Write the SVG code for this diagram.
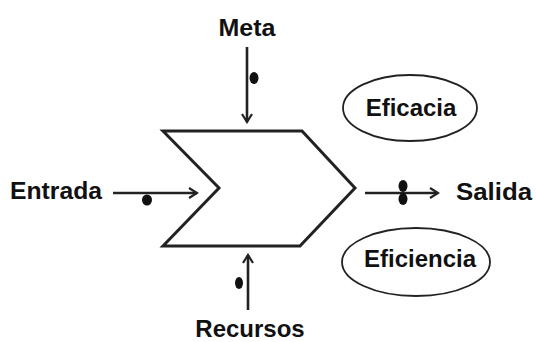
<svg xmlns="http://www.w3.org/2000/svg" width="536" height="342" viewBox="0 0 536 342">
<style>
.t{font-family:"Liberation Sans",Arial,sans-serif;font-weight:bold;font-size:24px;fill:#111}
.ln{stroke:#222;stroke-width:2.6;fill:none}
.dot{fill:#111}
.ov{fill:#fff;stroke:#222;stroke-width:1.8}
</style>
<defs>
<marker id="ah" viewBox="0 0 12 12" refX="10" refY="6" markerWidth="12" markerHeight="12" markerUnits="userSpaceOnUse" orient="auto">
<path d="M2,1 L10,6 L2,11" fill="none" stroke="#222" stroke-width="2.2"/>
</marker>
</defs>
<rect width="536" height="342" fill="#fff"/>
<g id="proceso">
<polygon points="163,131 302,131 355,188 300,246 163,246 219,188" fill="#fff" stroke="#222" stroke-width="3" stroke-linejoin="miter"/>
</g>
<g id="meta">
<text class="t" x="247" y="36" text-anchor="middle" textLength="57" lengthAdjust="spacingAndGlyphs">Meta</text>
</g>
<g id="entrada">
<text class="t" x="10" y="199" textLength="92" lengthAdjust="spacingAndGlyphs">Entrada</text>
</g>
<g id="salida">
<text class="t" x="456" y="200" textLength="76" lengthAdjust="spacingAndGlyphs">Salida</text>
</g>
<g id="recursos">
<text class="t" x="250" y="337" text-anchor="middle">Recursos</text>
</g>
<g id="eficacia">
<ellipse class="ov" cx="410" cy="108" rx="67" ry="33"/>
<text class="t" x="411" y="116" text-anchor="middle">Eficacia</text>
</g>
<g id="eficiencia">
<ellipse class="ov" cx="416" cy="262" rx="74" ry="34"/>
<text class="t" x="420" y="267" text-anchor="middle">Eficiencia</text>
</g>
<g id="conectores">
<line class="ln" x1="247" y1="47" x2="247" y2="122" marker-end="url(#ah)"/>
<ellipse class="dot" cx="254" cy="78" rx="4.5" ry="6"/>
<line class="ln" x1="113" y1="193" x2="197" y2="193" marker-end="url(#ah)"/>
<ellipse class="dot" cx="147" cy="200" rx="5" ry="5.5"/>
<line class="ln" x1="365" y1="193" x2="438" y2="193" marker-end="url(#ah)"/>
<ellipse class="dot" cx="403" cy="186" rx="4.5" ry="6"/>
<ellipse class="dot" cx="403" cy="199" rx="4.5" ry="6"/>
<line class="ln" x1="248" y1="310" x2="248" y2="255" marker-end="url(#ah)"/>
<ellipse class="dot" cx="239" cy="283" rx="4" ry="6"/>
</g>
</svg>
